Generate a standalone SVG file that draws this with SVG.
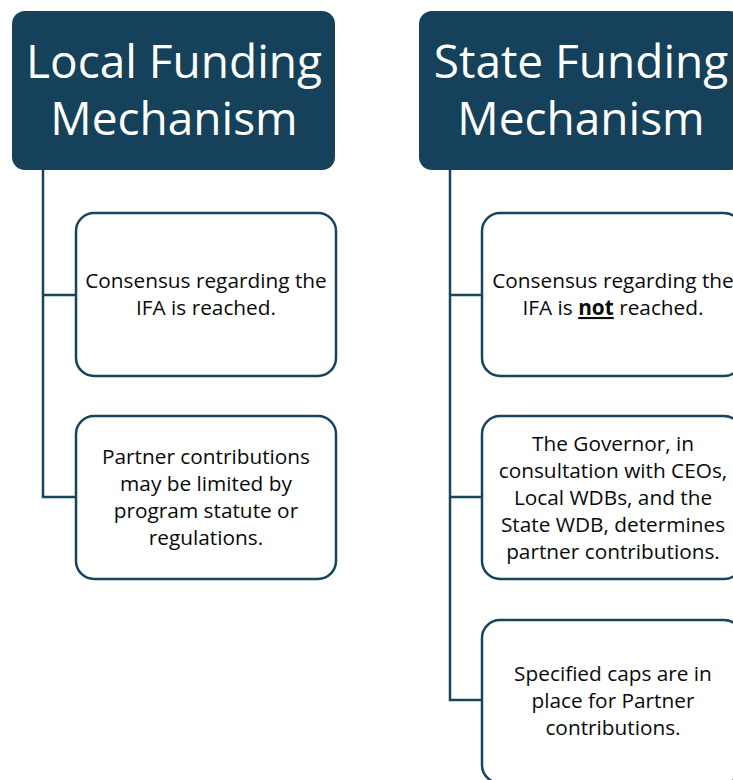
<svg xmlns="http://www.w3.org/2000/svg" width="733" height="780" viewBox="0 0 733 780">
<style>
.hdr{fill:#15415A;}
.hdrt{fill:#ffffff;font-family:"Open Sans",sans-serif;font-size:46px;text-anchor:middle;}
.box{fill:#ffffff;stroke:#17455D;stroke-width:2.5;}
.t{fill:#0a0a0a;font-family:"Open Sans",sans-serif;font-size:20.8px;text-anchor:middle;}
.con{fill:none;stroke:#17455D;stroke-width:2.5;}
</style>
<rect width="733" height="780" fill="#ffffff"/>
<g id="connectors">
<path class="con" d="M43 170 V497 H76 M43 295 H76"/>
<path class="con" d="M450 170 V700 H482 M450 295 H482 M450 497 H482"/>
</g>
<g id="local-header">
<rect class="hdr" x="12" y="11" width="323" height="159" rx="13"/>
<text class="hdrt" x="174" y="78">Local Funding</text>
<text class="hdrt" x="174" y="135">Mechanism</text>
</g>
<g id="local-1">
<rect class="box" x="76" y="213" width="260" height="163" rx="18"/>
<text class="t" x="206" y="288">Consensus regarding the</text>
<text class="t" x="206" y="315">IFA is reached.</text>
</g>
<g id="local-2">
<rect class="box" x="76" y="416" width="260" height="163" rx="18"/>
<text class="t" x="206" y="464">Partner contributions</text>
<text class="t" x="206" y="491">may be limited by</text>
<text class="t" x="206" y="518">program statute or</text>
<text class="t" x="206" y="545">regulations.</text>
</g>
<g id="state-header">
<rect class="hdr" x="419" y="11" width="323" height="159" rx="13"/>
<text class="hdrt" x="581" y="78">State Funding</text>
<text class="hdrt" x="581" y="135">Mechanism</text>
</g>
<g id="state-1">
<rect class="box" x="482" y="213" width="260" height="163" rx="18"/>
<text class="t" x="613" y="288">Consensus regarding the</text>
<text class="t" x="613" y="315">IFA is <tspan font-weight="bold" text-decoration="underline">not</tspan> reached.</text>
</g>
<g id="state-2">
<rect class="box" x="482" y="416" width="260" height="163" rx="18"/>
<text class="t" x="613" y="451">The Governor, in</text>
<text class="t" x="613" y="478">consultation with CEOs,</text>
<text class="t" x="613" y="505">Local WDBs, and the</text>
<text class="t" x="613" y="532">State WDB, determines</text>
<text class="t" x="613" y="559">partner contributions.</text>
</g>
<g id="state-3">
<rect class="box" x="482" y="620" width="260" height="163" rx="18"/>
<text class="t" x="613" y="681">Specified caps are in</text>
<text class="t" x="613" y="708">place for Partner</text>
<text class="t" x="613" y="735">contributions.</text>
</g>
</svg>
